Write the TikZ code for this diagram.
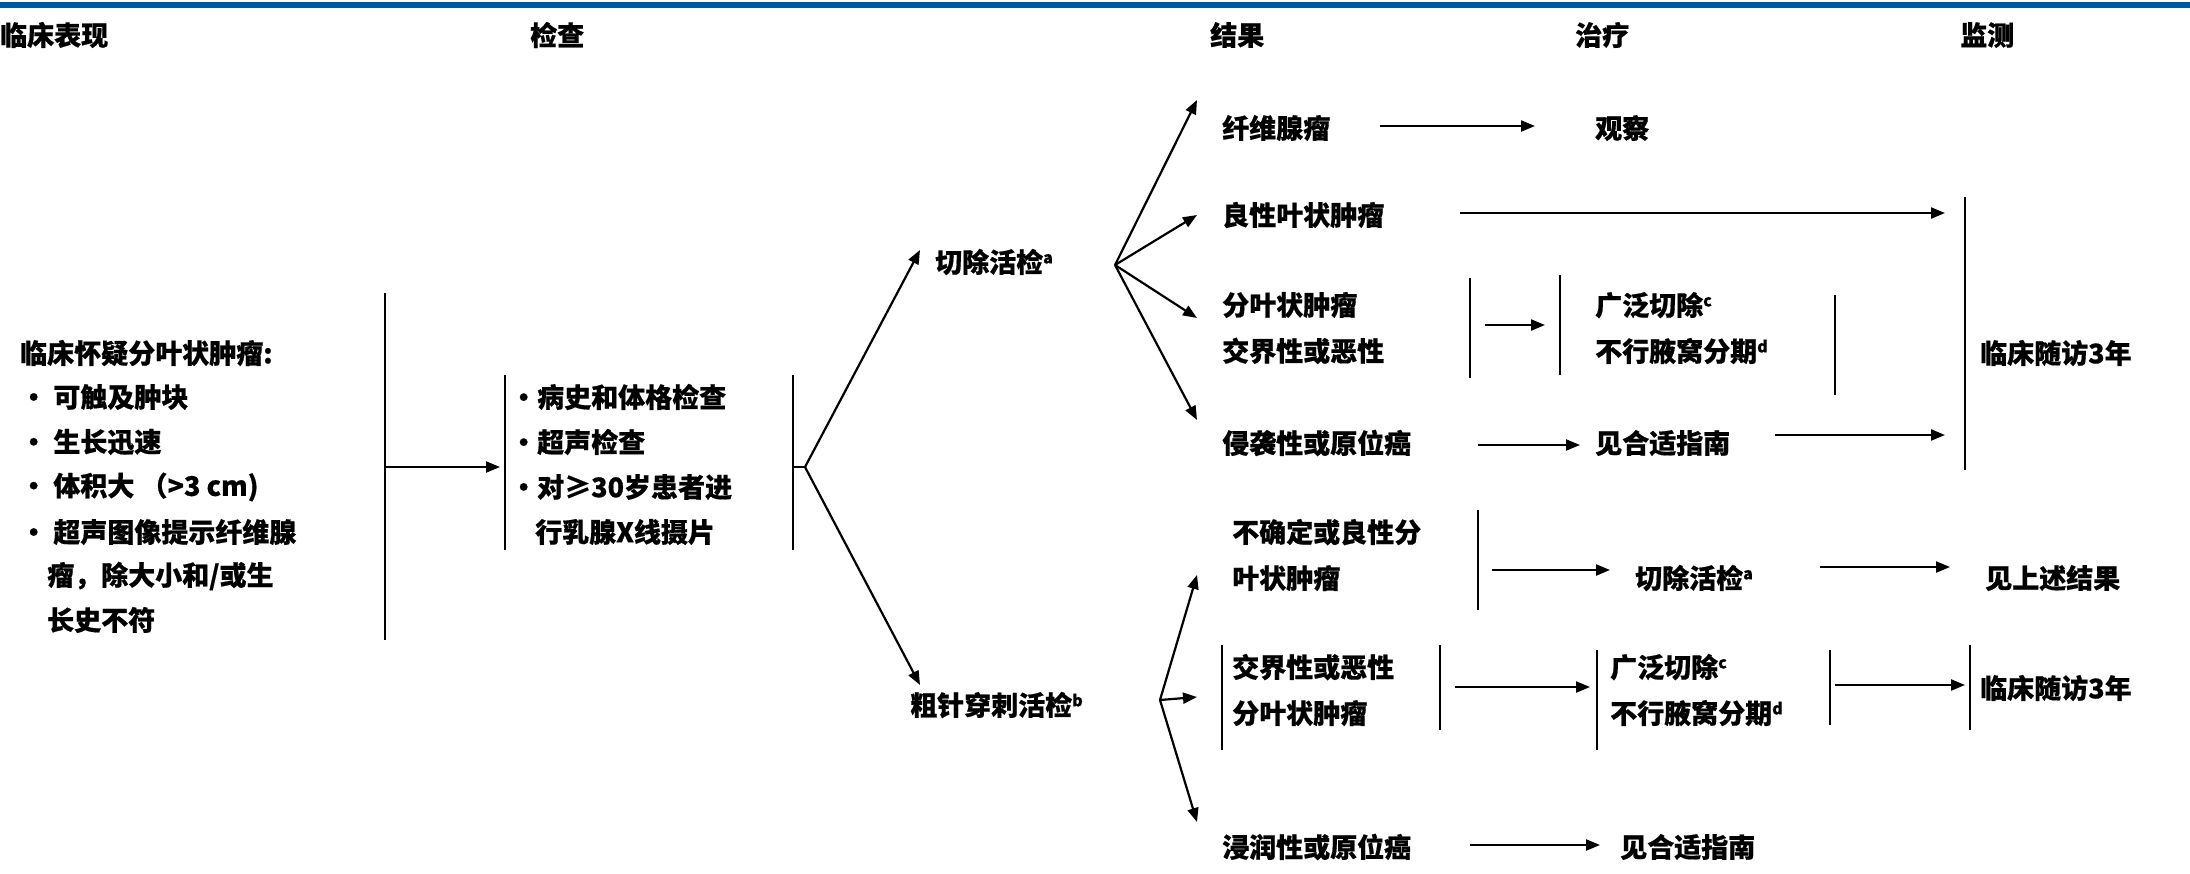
\documentclass[tikz,border=0pt]{standalone}
\usepackage{fontspec}
\setmainfont{Noto Sans CJK SC}[BoldFont={Noto Sans CJK SC Black},BoldFeatures={FakeBold=0.6}]
\usetikzlibrary{arrows.meta}
\newcommand{\sps}[1]{\raisebox{9pt}{\fontsize{16}{16}\selectfont #1}}
\begin{document}
\begin{tikzpicture}[x=1pt,y=-1pt,
  t/.style={anchor=west,inner sep=0pt,font=\fontsize{27}{46}\selectfont\bfseries,align=left},
  ar/.style={line width=2.2pt,-{Triangle[length=14pt,width=11pt]}},
  bar/.style={line width=2.2pt}]
\useasboundingbox (0,0) rectangle (2190,873);
\fill[color={rgb,255:red,0;green,90;blue,160}] (0,2) rectangle (2190,8);
\foreach \x/\s in {0/临床表现,530/检查,1210/结果,1575/治疗,1960/监测}
  \node[t] at (\x,35) {\s};
% left
\node[t] (cl) at (20,353) {临床怀疑分叶状肿瘤:};
\node[t] (b1) at (20,397) {• 可触及肿块};
\node[t] (b2) at (20,442) {• 生长迅速};
\node[t] (b3) at (20,487) {• 体积大 （>3 cm)};
\node[t] (b4) at (20,532) {• 超声图像提示纤维腺};
\node[t] (b5) at (47,576) {瘤，除大小和/或生};
\node[t] (b6) at (47,620) {长史不符};
\coordinate (L1) at (385,293); \coordinate (L2) at (385,640);
\draw[bar] (L1)--(L2);
\coordinate (a1s) at (385,467); \coordinate (a1e) at (500,467);
\draw[ar] (a1s)--(a1e);
\coordinate (L3) at (505,375); \coordinate (L4) at (505,550);
\draw[bar] (L3)--(L4);
\node[t] (e1) at (510,397) {•病史和体格检查};
\node[t] (e2) at (510,442) {•超声检查};
\node[t] (e3) at (510,487) {•对≥30岁患者进};
\node[t] (e4) at (535,532) {行乳腺X线摄片};
\coordinate (L5) at (793,375); \coordinate (L6) at (793,550);
\draw[bar] (L5)--(L6);
\coordinate (f) at (805,467);
\coordinate (fa) at (920,250); \coordinate (fb) at (920,685);
\draw[bar] (L5|-f)--(f);
\draw[ar] (f)--(fa); \draw[ar] (f)--(fb);
\node[t] (ex) at (935,262) {切除活检\sps{a}};
\node[t] (cb) at (910,705) {粗针穿刺活检\sps{b}};
% upper fan
\coordinate (u) at (1115,265);
\foreach \n/\y in {u1/100,u2/215,u3/318,u4/420}{
  \coordinate (\n) at (1197,\y); \draw[ar] (u)--(\n);}
\node[t] (r1) at (1222,128) {纤维腺瘤};
\node[t] (r2) at (1222,215) {良性叶状肿瘤};
\node[t] (r3) at (1222,328) {分叶状肿瘤\\交界性或恶性};
\node[t] (r4) at (1222,443) {侵袭性或原位癌};
\coordinate (p1) at (1380,126); \coordinate (p2) at (1535,126); \draw[ar] (p1)--(p2);
\node[t] (gz) at (1595,128) {观察};
\coordinate (p3) at (1460,213); \coordinate (p4) at (1945,213); \draw[ar] (p3)--(p4);
\coordinate (q1) at (1470,278); \coordinate (q2) at (1470,378); \draw[bar] (q1)--(q2);
\coordinate (p5) at (1485,325); \coordinate (p6) at (1545,325); \draw[ar] (p5)--(p6);
\coordinate (q3) at (1560,275); \coordinate (q4) at (1560,375); \draw[bar] (q3)--(q4);
\node[t] (w1) at (1595,328) {广泛切除\sps{c}\\不行腋窝分期\sps{d}};
\coordinate (q5) at (1835,295); \coordinate (q6) at (1835,395); \draw[bar] (q5)--(q6);
\coordinate (p7) at (1478,445); \coordinate (p8) at (1580,445); \draw[ar] (p7)--(p8);
\node[t] (g1) at (1595,443) {见合适指南};
\coordinate (p9) at (1775,435); \coordinate (p10) at (1945,435); \draw[ar] (p9)--(p10);
\coordinate (q7) at (1965,197); \coordinate (q8) at (1965,470); \draw[bar] (q7)--(q8);
\node[t] (m1) at (1980,353) {临床随访3年};
% lower fan
\coordinate (d) at (1160,700);
\foreach \n/\y in {d1/575,d2/697,d3/822}{
  \coordinate (\n) at (1197,\y); \draw[ar] (d)--(\n);}
\node[t] (s1) at (1232,555) {不确定或良性分\\叶状肿瘤};
\coordinate (h1) at (1478,510); \coordinate (h2) at (1478,610); \draw[bar] (h1)--(h2);
\coordinate (k1) at (1492,570); \coordinate (k2) at (1610,570); \draw[ar] (k1)--(k2);
\node[t] (x2) at (1635,578) {切除活检\sps{a}};
\coordinate (k3) at (1820,567); \coordinate (k4) at (1950,567); \draw[ar] (k3)--(k4);
\node[t] (sr) at (1985,578) {见上述结果};
\coordinate (h3) at (1222,645); \coordinate (h4) at (1222,750); \draw[bar] (h3)--(h4);
\node[t] (s2) at (1232,690) {交界性或恶性\\分叶状肿瘤};
\coordinate (h5) at (1440,645); \coordinate (h6) at (1440,730); \draw[bar] (h5)--(h6);
\coordinate (k5) at (1455,687); \coordinate (k6) at (1590,687); \draw[ar] (k5)--(k6);
\coordinate (h7) at (1597,650); \coordinate (h8) at (1597,750); \draw[bar] (h7)--(h8);
\node[t] (w2) at (1610,690) {广泛切除\sps{c}\\不行腋窝分期\sps{d}};
\coordinate (h9) at (1830,650); \coordinate (h10) at (1830,725); \draw[bar] (h9)--(h10);
\coordinate (k7) at (1835,685); \coordinate (k8) at (1965,685); \draw[ar] (k7)--(k8);
\coordinate (h11) at (1970,645); \coordinate (h12) at (1970,730); \draw[bar] (h11)--(h12);
\node[t] (m2) at (1980,688) {临床随访3年};
\node[t] (s3) at (1222,847) {浸润性或原位癌};
\coordinate (k9) at (1470,845); \coordinate (k10) at (1600,845); \draw[ar] (k9)--(k10);
\node[t] (g2) at (1620,847) {见合适指南};
\end{tikzpicture}
\end{document}
